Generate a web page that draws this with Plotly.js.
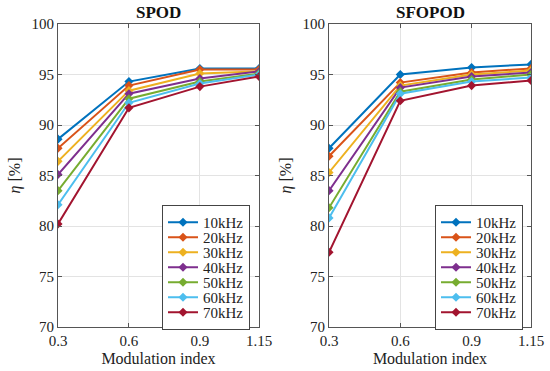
<!DOCTYPE html>
<html>
<head>
<meta charset="utf-8">
<script src="https://cdn.plot.ly/plotly-3.0.1.min.js"></script>
<style>html,body{margin:0;padding:0;background:#fff}#chart{width:550px;height:371px}</style>
</head>
<body>
<div id="chart"></div>
<script>
const modIndex = [0.3, 0.6, 0.9, 1.15];
const seriesNames = ["10kHz", "20kHz", "30kHz", "40kHz", "50kHz", "60kHz", "70kHz"];
const seriesColors = ["#0072BD", "#D95319", "#EDB120", "#7E2F8E", "#77AC30", "#4DBEEE", "#A2142F"];

// SPOD efficiency [%]
const spod10 = [88.6, 94.3, 95.6, 95.6];
const spod20 = [87.7, 93.9, 95.5, 95.5];
const spod30 = [86.4, 93.4, 95.1, 95.3];
const spod40 = [85.1, 93.1, 94.6, 95.3];
const spod50 = [83.5, 92.6, 94.3, 95.1];
const spod60 = [82.1, 92.2, 94.1, 95.0];
const spod70 = [80.2, 91.7, 93.8, 94.8];

// SFOPOD efficiency [%]
const sfopod10 = [87.7, 95.0, 95.7, 96.0];
const sfopod20 = [86.9, 94.2, 95.2, 95.6];
const sfopod30 = [85.3, 93.9, 95.0, 95.4];
const sfopod40 = [83.5, 93.7, 94.8, 95.2];
const sfopod50 = [81.8, 93.3, 94.5, 95.0];
const sfopod60 = [80.8, 93.1, 94.3, 94.7];
const sfopod70 = [77.4, 92.4, 93.9, 94.4];

const xTickVals = [0.3, 0.6, 0.9, 1.15];
const xTickText = ["0.3", "0.6", "0.9", "1.15"];
const yTickVals = [70, 75, 80, 85, 90, 95, 100];

const spod = [spod10, spod20, spod30, spod40, spod50, spod60, spod70];
const sfopod = [sfopod10, sfopod20, sfopod30, sfopod40, sfopod50, sfopod60, sfopod70];

const FONT = "Liberation Serif";
const traces = [];
spod.forEach((ys, i) => traces.push({
  x: modIndex, y: ys, name: seriesNames[i], type: "scatter", mode: "lines+markers",
  xaxis: "x", yaxis: "y", legend: "legend",
  line: {color: seriesColors[i], width: 2},
  marker: {symbol: "diamond", size: 7, color: seriesColors[i]}
}));
sfopod.forEach((ys, i) => traces.push({
  x: modIndex, y: ys, name: seriesNames[i], type: "scatter", mode: "lines+markers",
  xaxis: "x2", yaxis: "y2", legend: "legend2",
  line: {color: seriesColors[i], width: 2},
  marker: {symbol: "diamond", size: 7, color: seriesColors[i]}
}));

const W = 550, H = 371;
const pl = 58, pr = 259, pl2 = 329, pr2 = 531, pt = 24, pb = 327;
const axCommon = {
  showline: true, mirror: "ticks", linecolor: "#555", linewidth: 1,
  ticks: "inside", ticklen: 4, tickcolor: "#555",
  showgrid: true, gridcolor: "#e3e3e3", gridwidth: 1, zeroline: false,
  tickfont: {family: FONT, size: 15, color: "#222"}
};
const xAx = (dom, anchor) => Object.assign({}, axCommon, {
  domain: dom, anchor: anchor, range: [0.3, 1.15], tickmode: "array",
  tickvals: xTickVals, ticktext: xTickText,
  title: {text: "Modulation index", font: {family: FONT, size: 16, color: "#222"}, standoff: 4}
});
const yAx = (anchor) => Object.assign({}, axCommon, {
  domain: [1 - pb / H, 1 - pt / H], anchor: anchor, range: [70, 100], tickmode: "array",
  tickvals: yTickVals,
  title: {text: "<i>η</i> [%]", font: {family: FONT, size: 16, color: "#222"}, standoff: 6}
});
const legCommon = {
  bgcolor: "#fff", bordercolor: "#444", borderwidth: 1,
  font: {family: FONT, size: 15, color: "#222"},
  xanchor: "right", yanchor: "bottom", yref: "paper", xref: "paper",
  tracegroupgap: 0, itemwidth: 30
};
const layout = {
  width: W, height: H, margin: {l: 0, r: 0, t: 0, b: 0},
  font: {family: FONT, color: "#222"},
  paper_bgcolor: "#fff", plot_bgcolor: "#fff", showlegend: true,
  xaxis: xAx([pl / W, pr / W], "y"),
  yaxis: yAx("x"),
  xaxis2: xAx([pl2 / W, pr2 / W], "y2"),
  yaxis2: yAx("x2"),
  legend: Object.assign({}, legCommon, {x: 250 / W, y: 1 - 330 / H}),
  legend2: Object.assign({}, legCommon, {x: 523 / W, y: 1 - 330 / H}),
  annotations: [
    {text: "<b>SPOD</b>", x: (pl + pr) / 2 / W, y: 1 - 12 / H, xref: "paper", yref: "paper",
     xanchor: "center", yanchor: "middle",
     showarrow: false, font: {family: FONT, size: 17, color: "#111"}},
    {text: "<b>SFOPOD</b>", x: (pl2 + pr2) / 2 / W, y: 1 - 12 / H, xref: "paper", yref: "paper",
     xanchor: "center", yanchor: "middle",
     showarrow: false, font: {family: FONT, size: 17, color: "#111"}}
  ]
};

function parseT(el) {
  const m = /translate\(\s*([-\d.e]+)[ ,]+([-\d.e]+)/.exec(el.getAttribute("transform") || "");
  return m ? [parseFloat(m[1]), parseFloat(m[2])] : null;
}
function compactLegends(gd, step) {
  ["legend", "legend2"].forEach(id => {
    const lg = gd.querySelector("g.infolayer > g." + id);
    if (!lg) return;
    let items = Array.from(lg.querySelectorAll("g.traces"));
    if (items.length < 2) return;
    let pos = items.map(parseT);
    if (pos.some(p => !p) || Math.abs(pos[pos.length - 1][1] - pos[0][1]) < 1) {
      items = items.map(e => e.parentNode);
      pos = items.map(parseT);
      if (pos.some(p => !p)) return;
    }
    const oldSpan = pos[pos.length - 1][1] - pos[0][1];
    const newSpan = step * (items.length - 1);
    const shrink = oldSpan - newSpan;
    if (shrink <= 0) return;
    items.forEach((el, i) => el.setAttribute("transform",
      "translate(" + pos[i][0] + "," + (pos[0][1] + i * step) + ")"));
    const bg = lg.querySelector("rect.bg");
    if (bg) bg.setAttribute("height", parseFloat(bg.getAttribute("height")) - shrink);
    const lp = parseT(lg);
    if (lp) lg.setAttribute("transform", "translate(" + lp[0] + "," + (lp[1] + shrink) + ")");
  });
}

Plotly.newPlot("chart", traces, layout, {staticPlot: true, displayModeBar: false})
  .then(gd => compactLegends(gd, 15));
</script>
</body>
</html>
